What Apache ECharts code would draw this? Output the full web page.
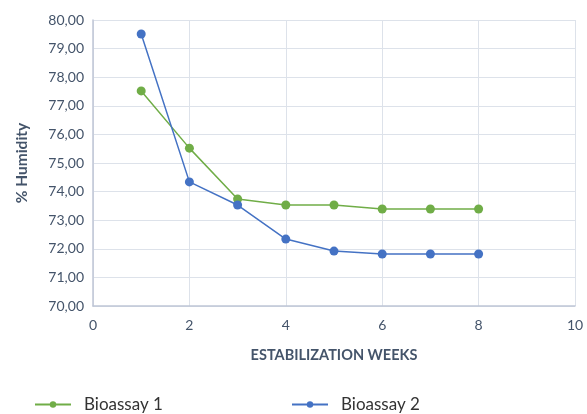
<!DOCTYPE html>
<html><head><meta charset="utf-8">
<script src="https://cdn.jsdelivr.net/npm/echarts@6/dist/echarts.min.js"></script>
<style>html,body{margin:0;padding:0;background:#fff}#c{width:587px;height:414px}</style>
</head><body><div id="c"></div>
<script>
const weeks = [1, 2, 3, 4, 5, 6, 7, 8];
const bioassay1 = [77.52, 75.52, 73.74, 73.53, 73.53, 73.39, 73.39, 73.39];
const bioassay2 = [79.51, 74.34, 73.53, 72.34, 71.92, 71.82, 71.82, 71.82];
const seriesNames = ['Bioassay 1', 'Bioassay 2'];
const xTitle = 'ESTABILIZATION WEEKS';
const yTitle = '% Humidity';

const font = 'Lato, "Open Sans", sans-serif';
const txt = '#44546A';
const legendText = {fontSize: 17, color: '#333', fontFamily: font, padding: [0, 0, 0, 8]};
const chart = echarts.init(document.getElementById('c'), null, {renderer: 'canvas'});
chart.setOption({
  animation: false,
  textStyle: {fontFamily: font},
  grid: {left: 93, right: 12, top: 20, bottom: 108},
  legend: [
    {data: [seriesNames[0]], left: 34, top: 396, padding: 0, itemWidth: 36, itemHeight: 8, textStyle: legendText},
    {data: [seriesNames[1]], left: 291, top: 396, padding: 0, itemWidth: 36, itemHeight: 8, textStyle: legendText}
  ],
  xAxis: {
    type: 'value', min: 0, max: 10, interval: 2,
    name: xTitle, nameLocation: 'middle', nameGap: 42,
    nameTextStyle: {fontSize: 14.5, fontWeight: 'bold', color: txt, fontFamily: font},
    axisLine: {show: true, lineStyle: {color: '#BFC6D6', width: 1.5}},
    axisTick: {show: false},
    axisLabel: {fontSize: 14, color: txt, margin: 12},
    splitLine: {show: true, lineStyle: {color: '#DDE2EA', width: 1}}
  },
  yAxis: {
    type: 'value', min: 70, max: 80, interval: 1,
    name: yTitle, nameLocation: 'middle', nameGap: 63, nameRotate: 90,
    nameTextStyle: {fontSize: 15.5, fontWeight: 'bold', color: txt, fontFamily: font},
    axisLine: {show: true, lineStyle: {color: '#BFC6D6', width: 1.5}},
    axisTick: {show: false},
    axisLabel: {fontSize: 14, color: txt, margin: 9,
      formatter: v => v.toFixed(2).replace('.', ',')},
    splitLine: {show: true, lineStyle: {color: '#DDE2EA', width: 1}}
  },
  series: [
    {name: seriesNames[0], type: 'line', data: weeks.map((w, i) => [w, bioassay1[i]]),
     symbol: 'circle', symbolSize: 9, color: '#70AD47',
     lineStyle: {width: 1.5, color: '#70AD47'}, itemStyle: {color: '#70AD47'}},
    {name: seriesNames[1], type: 'line', data: weeks.map((w, i) => [w, bioassay2[i]]),
     symbol: 'circle', symbolSize: 9, color: '#4472C4',
     lineStyle: {width: 1.5, color: '#4472C4'}, itemStyle: {color: '#4472C4'}}
  ]
});
</script></body></html>
